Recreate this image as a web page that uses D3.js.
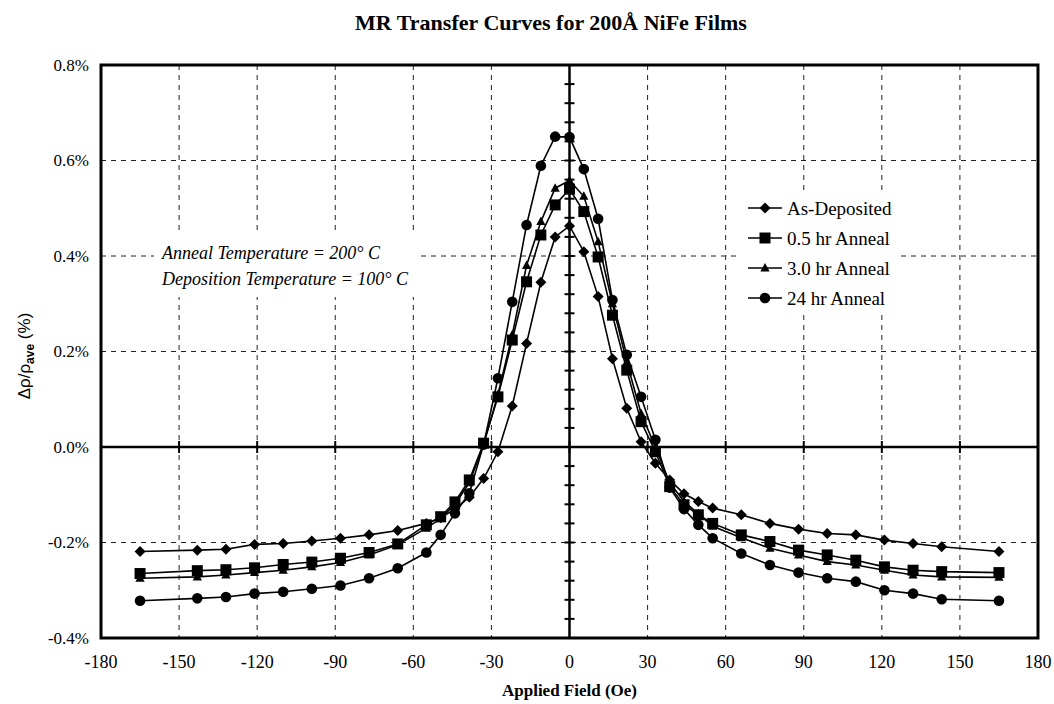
<!DOCTYPE html>
<html>
<head>
<meta charset="utf-8">
<script src="https://cdn.jsdelivr.net/npm/d3@7"></script>
<style>
  html, body { margin: 0; padding: 0; background: #fff; }
  svg { display: block; }
</style>
</head>
<body>
<svg id="chart" width="1054" height="704"></svg>
<script>
// Applied field (Oe) at which every film was measured
const fieldOe = [-165, -143, -132, -121, -110, -99, -88, -77, -66, -55, -49.5, -44, -38.5, -33, -27.5, -22, -16.5, -11, -5.5, 0,
                 5.5, 11, 16.5, 22, 27.5, 33, 38.5, 44, 49.5, 55, 66, 77, 88, 99, 110, 121, 132, 143, 165];

// Δρ/ρave (%) for each film
const asDeposited = [-0.219, -0.216, -0.214, -0.204, -0.202, -0.197, -0.191, -0.184, -0.175, -0.160, -0.148, -0.130, -0.105, -0.066, -0.010, 0.086, 0.217, 0.345, 0.440, 0.463,
                     0.409, 0.315, 0.185, 0.081, 0.011, -0.034, -0.069, -0.098, -0.114, -0.128, -0.142, -0.160, -0.172, -0.181, -0.184, -0.195, -0.202, -0.209, -0.219];
const anneal05 = [-0.265, -0.259, -0.257, -0.253, -0.246, -0.241, -0.233, -0.221, -0.203, -0.163, -0.146, -0.115, -0.069, 0.008, 0.105, 0.224, 0.346, 0.444, 0.507, 0.540,
                  0.493, 0.398, 0.276, 0.161, 0.053, -0.010, -0.083, -0.121, -0.142, -0.160, -0.184, -0.198, -0.216, -0.226, -0.237, -0.251, -0.258, -0.261, -0.263];
const anneal30 = [-0.275, -0.272, -0.268, -0.263, -0.258, -0.251, -0.242, -0.226, -0.205, -0.170, -0.150, -0.120, -0.075, 0.005, 0.110, 0.235, 0.380, 0.472, 0.542, 0.558,
                  0.525, 0.430, 0.300, 0.178, 0.070, 0.000, -0.075, -0.114, -0.140, -0.166, -0.190, -0.212, -0.226, -0.240, -0.247, -0.258, -0.268, -0.272, -0.273];
const anneal24 = [-0.322, -0.317, -0.314, -0.307, -0.303, -0.297, -0.290, -0.275, -0.254, -0.221, -0.184, -0.139, -0.097, 0.005, 0.144, 0.304, 0.465, 0.589, 0.650, 0.649,
                  0.582, 0.478, 0.308, 0.193, 0.105, 0.015, -0.085, -0.130, -0.163, -0.191, -0.223, -0.247, -0.263, -0.275, -0.282, -0.300, -0.307, -0.319, -0.322];

const seriesNames = ["As-Deposited", "0.5 hr Anneal", "3.0 hr Anneal", "24 hr Anneal"];
const seriesMarkers = ["diamond", "square", "triangle", "circle"];
const seriesValues = [asDeposited, anneal05, anneal30, anneal24];

// Axis ticks
const xTickValues = [-180, -150, -120, -90, -60, -30, 0, 30, 60, 90, 120, 150, 180];
const yTickValues = [-0.4, -0.2, 0.0, 0.2, 0.4, 0.6, 0.8];
const yMinorStep = 0.04;

const titleText = "MR Transfer Curves for 200Å NiFe Films";
const xTitle = "Applied Field (Oe)";
const noteLines = ["Anneal Temperature = 200° C", "Deposition Temperature = 100° C"];

const svg = d3.select("#chart");
const plot = { left: 101, right: 1038, top: 65, bottom: 638 };

const x = d3.scaleLinear().domain([-180, 180]).range([plot.left, plot.right]);
const y = d3.scaleLinear().domain([-0.4, 0.8]).range([plot.bottom, plot.top]);

const serif = "'Liberation Serif', 'Times New Roman', Times, serif";
const sans = "'Liberation Sans', Arial, Helvetica, sans-serif";

// Title
svg.append("text")
  .attr("x", 551).attr("y", 30)
  .attr("text-anchor", "middle")
  .style("font-family", serif).style("font-weight", "bold").style("font-size", "22px")
  .text(titleText);

// Dashed grid
const grid = svg.append("g").attr("stroke", "#222").attr("stroke-width", 1).attr("stroke-dasharray", "5,5");
grid.selectAll("line.v")
  .data(xTickValues.filter(v => v !== 0 && Math.abs(v) !== 180))
  .join("line")
  .attr("x1", d => x(d)).attr("x2", d => x(d))
  .attr("y1", plot.top).attr("y2", plot.bottom);
grid.selectAll("line.h")
  .data(yTickValues.filter(v => v !== 0 && v !== -0.4 && v !== 0.8))
  .join("line")
  .attr("x1", plot.left).attr("x2", plot.right)
  .attr("y1", d => y(d)).attr("y2", d => y(d));

// Zero axes through the origin
const axes = svg.append("g").attr("stroke", "#000");
axes.append("line")
  .attr("x1", plot.left).attr("x2", plot.right)
  .attr("y1", y(0)).attr("y2", y(0)).attr("stroke-width", 2.5);
axes.append("line")
  .attr("x1", x(0)).attr("x2", x(0))
  .attr("y1", plot.top).attr("y2", plot.bottom).attr("stroke-width", 2.5);

// Cross ticks on the zero axes
const yMinorTicks = d3.range(Math.round(-0.4 / yMinorStep), Math.round(0.8 / yMinorStep) + 1).map(k => k * yMinorStep);
axes.selectAll("line.yt")
  .data(yMinorTicks)
  .join("line")
  .attr("x1", x(0) - 5).attr("x2", x(0) + 5)
  .attr("y1", d => y(d)).attr("y2", d => y(d))
  .attr("stroke-width", 2);
axes.selectAll("line.xt")
  .data(xTickValues.filter(v => Math.abs(v) !== 180))
  .join("line")
  .attr("x1", d => x(d)).attr("x2", d => x(d))
  .attr("y1", y(0) - 6).attr("y2", y(0) + 6)
  .attr("stroke-width", 2);

// Plot frame
svg.append("rect")
  .attr("x", plot.left).attr("y", plot.top)
  .attr("width", plot.right - plot.left).attr("height", plot.bottom - plot.top)
  .attr("fill", "none").attr("stroke", "#000").attr("stroke-width", 3);

// Tick labels (plain hyphen for negatives)
svg.append("g").selectAll("text")
  .data(xTickValues)
  .join("text")
  .attr("x", d => x(d)).attr("y", 668)
  .attr("text-anchor", "middle")
  .style("font-family", serif).style("font-size", "18px")
  .text(d => String(d));

svg.append("g").selectAll("text")
  .data(yTickValues)
  .join("text")
  .attr("x", 89).attr("y", d => y(d))
  .attr("dy", "0.35em")
  .attr("text-anchor", "end")
  .style("font-family", serif).style("font-size", "17px")
  .text(d => d.toFixed(1) + "%");

// Axis titles
svg.append("text")
  .attr("x", x(0)).attr("y", 696)
  .attr("text-anchor", "middle")
  .style("font-family", serif).style("font-weight", "bold").style("font-size", "17px")
  .text(xTitle);

const yt = svg.append("text")
  .attr("transform", "translate(30,356) rotate(-90)")
  .attr("text-anchor", "middle")
  .style("font-family", sans).style("font-size", "17px");
yt.append("tspan").text("Δρ/ρ");
yt.append("tspan").attr("dy", 4).style("font-size", "12px").style("font-weight", "bold").text("ave");
yt.append("tspan").attr("dy", -4).text(" (%)");

// Marker shapes
function markerPath(kind) {
  switch (kind) {
    case "diamond": return "M0,-5.5L5.5,0L0,5.5L-5.5,0Z";
    case "square": return "M-5.5,-5.5H5.5V5.5H-5.5Z";
    case "triangle": return "M0,-5L4.6,3.5H-4.6Z";
    default: return d3.symbol().type(d3.symbolCircle).size(Math.PI * 5.3 * 5.3)();
  }
}

const line = d3.line().x(d => x(d[0])).y(d => y(d[1]));

seriesValues.forEach((vals, i) => {
  const pts = fieldOe.map((f, j) => [f, vals[j]]);
  const g = svg.append("g");
  g.append("path")
    .datum(pts)
    .attr("d", line)
    .attr("fill", "none").attr("stroke", "#000").attr("stroke-width", 1.6);
  g.selectAll("path.m")
    .data(pts)
    .join("path")
    .attr("transform", d => `translate(${x(d[0])},${y(d[1])})`)
    .attr("d", markerPath(seriesMarkers[i]))
    .attr("fill", "#000");
});

// Annotation on a white box
const note = svg.append("g");
const noteBg = note.append("rect").attr("fill", "#fff");
note.selectAll("text")
  .data(noteLines)
  .join("text")
  .attr("x", 162).attr("y", (d, i) => 259 + i * 26)
  .style("font-family", serif).style("font-style", "italic").style("font-size", "18px")
  .text(d => d);
const nb = note.node().getBBox();
noteBg.attr("x", nb.x - 7).attr("y", nb.y - 8).attr("width", nb.width + 14).attr("height", nb.height + 16);

// Legend on a white box
const legend = svg.append("g").attr("transform", "translate(748,208)");
const legendBg = legend.append("rect").attr("fill", "#fff");
seriesNames.forEach((name, i) => {
  const row = legend.append("g").attr("transform", `translate(0,${i * 30})`);
  row.append("line").attr("x1", 0).attr("x2", 34).attr("y1", 0).attr("y2", 0)
    .attr("stroke", "#000").attr("stroke-width", 1.6);
  row.append("path").attr("transform", "translate(17,0)")
    .attr("d", markerPath(seriesMarkers[i])).attr("fill", "#000");
  row.append("text").attr("x", 39).attr("y", 0).attr("dy", "0.35em")
    .style("font-family", serif).style("font-size", "19px")
    .text(name);
});
const lb = legend.node().getBBox();
legendBg.attr("x", lb.x - 8).attr("y", lb.y - 6).attr("width", lb.width + 16).attr("height", lb.height + 12);
</script>
</body>
</html>
